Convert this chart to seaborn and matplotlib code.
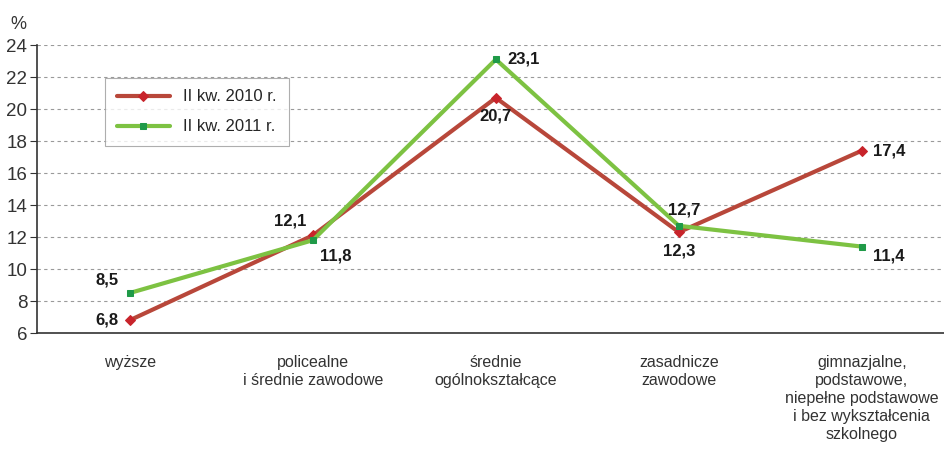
import pandas as pd
import matplotlib.pyplot as plt
import seaborn as sns

# Data
categories = ['wyższe',
              'policealne\ni średnie zawodowe',
              'średnie\nogólnokształcące',
              'zasadnicze\nzawodowe',
              'gimnazjalne,\npodstawowe,\nniepełne podstawowe\ni bez wykształcenia\nszkolnego']
values_2010 = [6.8, 12.1, 20.7, 12.3, 17.4]
values_2011 = [8.5, 11.8, 23.1, 12.7, 11.4]
series_names = ['II kw. 2010 r.', 'II kw. 2011 r.']
y_ticks = [6, 8, 10, 12, 14, 16, 18, 20, 22, 24]

df = pd.DataFrame({
    'pos': list(range(len(categories))) * 2,
    'value': values_2010 + values_2011,
    'series': [series_names[0]] * len(categories) + [series_names[1]] * len(categories),
})

sns.set_style('white')
plt.rcParams['font.family'] = ['Liberation Sans', 'DejaVu Sans']

fig = plt.figure(figsize=(9.45, 4.5), dpi=100)
ax = fig.add_axes([0.039, 0.26, 0.961, 0.64])

line_colors = {series_names[0]: '#B8473A', series_names[1]: '#7DC242'}
marker_colors = {series_names[0]: '#C8242B', series_names[1]: '#1F9A48'}
markers = {series_names[0]: 'D', series_names[1]: 's'}

for name in series_names:
    sub = df[df['series'] == name]
    sns.lineplot(data=sub, x='pos', y='value', ax=ax, color=line_colors[name],
                 linewidth=3, marker=markers[name], markersize=5,
                 markerfacecolor=marker_colors[name], markeredgecolor=marker_colors[name],
                 label=name, zorder=3)

# value labels
offsets_2010 = [(-8, 0, 'right', 'center'), (-5, 5, 'right', 'bottom'), (0, -8, 'center', 'top'),
                (0, -8, 'center', 'top'), (8, 0, 'left', 'center')]
offsets_2011 = [(-8, 4, 'right', 'bottom'), (5, -6, 'left', 'top'), (8, 0, 'left', 'center'),
                (4, 6, 'center', 'bottom'), (8, -7, 'left', 'center')]
for vals, offs in [(values_2010, offsets_2010), (values_2011, offsets_2011)]:
    for i, (v, (dx, dy, ha, va)) in enumerate(zip(vals, offs)):
        ax.annotate(f'{v:.1f}'.replace('.', ','), (i, v), xytext=(dx, dy),
                    textcoords='offset points', ha=ha, va=va,
                    fontsize=12, fontweight='bold', color='#1a1a1a')

ax.set_ylim(6, 24)
ax.set_yticks(y_ticks)
ax.set_xlim(-0.508, 4.454)
ax.set_xticks(range(len(categories)))
ax.set_xticklabels(categories, fontsize=11.5, color='#333333', linespacing=1.25)
ax.tick_params(axis='x', length=0, pad=16)
ax.tick_params(axis='y', length=5, direction='out', left=True, labelsize=13.5,
               colors='#333333', pad=2)
ax.yaxis.grid(True, linestyle=(0, (3, 3)), color='#9a9a9a', linewidth=0.8)
ax.xaxis.grid(False)
for side in ['top', 'right']:
    ax.spines[side].set_visible(False)
for side in ['left', 'bottom']:
    ax.spines[side].set_color('#333333')
    ax.spines[side].set_linewidth(1.2)
ax.set_xlabel('')
ax.set_ylabel('')
ax.text(-0.02, 1.04, '%', transform=ax.transAxes, fontsize=13, color='#333333',
        ha='center', va='bottom')

leg = ax.legend(loc='upper left', bbox_to_anchor=(0.066, 0.915), fontsize=12,
                frameon=True, fancybox=False, edgecolor='#9a9a9a', handlelength=3.2,
                borderpad=0.7, labelspacing=0.9)
leg.get_frame().set_linewidth(0.8)

fig.savefig('out.png', dpi=100)
